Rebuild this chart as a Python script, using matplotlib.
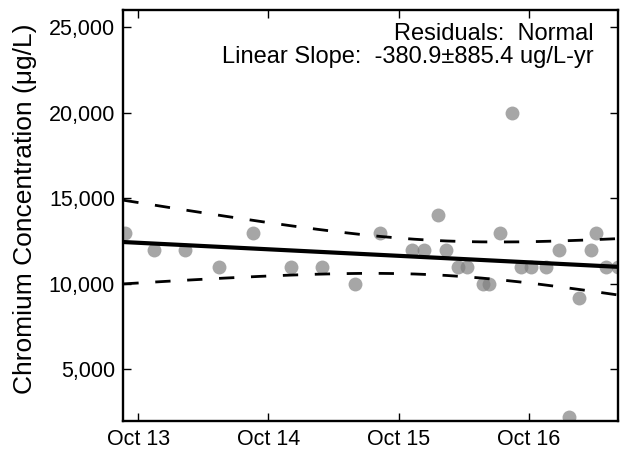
import datetime as dt

import matplotlib
matplotlib.use("Agg")
import matplotlib.pyplot as plt
import matplotlib.dates as mdates
import matplotlib.ticker as mticker
import numpy as np

# sample dates and chromium values
sample_dates = [
    "2013-08-25", "2013-11-14", "2014-02-10", "2014-05-15", "2014-08-18",
    "2014-12-03", "2015-03-01", "2015-06-01", "2015-08-09", "2015-11-08",
    "2015-12-10", "2016-01-20", "2016-02-11", "2016-03-16", "2016-04-10",
    "2016-05-25", "2016-06-10", "2016-07-12", "2016-08-14", "2016-09-08",
    "2016-10-07", "2016-11-18", "2016-12-24", "2017-01-20", "2017-02-19",
    "2017-03-23", "2017-04-08", "2017-05-06", "2017-06-07",
]
chromium = [
    13000, 12000, 12000, 11000, 13000,
    11000, 11000, 10000, 13000, 12000,
    12000, 14000, 12000, 11000, 11000,
    10000, 10000, 13000, 20000, 11000,
    11000, 11000, 12000, 2200, 9200,
    12000, 13000, 11000, 11000,
]
x_start = "2013-08-20"
x_end = "2017-06-08"
y_ticks = [5000, 10000, 15000, 20000, 25000]
note_lines = ["Residuals:  Normal", "Linear Slope:  -380.9\u00b1885.4 ug/L-yr"]

plt.rcParams['font.family'] = ['Liberation Sans', 'DejaVu Sans']
plt.rcParams['lines.scale_dashes'] = False

dates = [dt.datetime.strptime(d, "%Y-%m-%d") for d in sample_dates]
xnum = mdates.date2num(dates)
y = np.array(chromium, dtype=float)

# linear fit in years with 95% confidence band of the mean
t_yr = xnum / 365.25
coef = np.polyfit(t_yr, y, 1)
n = len(y)
resid = y - np.polyval(coef, t_yr)
s = np.sqrt(np.sum(resid ** 2) / (n - 2))
sxx = np.sum((t_yr - t_yr.mean()) ** 2)
t_crit = 2.052

x0 = mdates.date2num(dt.datetime.strptime(x_start, "%Y-%m-%d"))
x1 = mdates.date2num(dt.datetime.strptime(x_end, "%Y-%m-%d"))
xf = np.linspace(x0, x1, 200)
tf = xf / 365.25
yf = np.polyval(coef, tf)
half = t_crit * s * np.sqrt(1.0 / n + (tf - t_yr.mean()) ** 2 / sxx)

fig = plt.figure(figsize=(6.2, 4.53), dpi=100)
ax = fig.add_axes([0.199, 0.071, 0.798, 0.907])

ax.plot(xnum, y, 'o', color='gray', alpha=0.7, markersize=10, markeredgewidth=0, zorder=2)
ax.plot(xf, yf, '-', color='black', linewidth=3, zorder=3)
ax.plot(xf, yf + half, color='black', linewidth=2, dashes=(11, 12), zorder=3)
ax.plot(xf, yf - half, color='black', linewidth=2, dashes=(11, 12), zorder=3)

ax.set_xlim(x0, x1)
ax.set_ylim(2000, 26000)
ax.set_yticks(y_ticks)
ax.yaxis.set_major_formatter(mticker.FuncFormatter(lambda v, p: "{:,.0f}".format(v)))
ax.xaxis.set_major_locator(mdates.MonthLocator(bymonth=10))
ax.xaxis.set_major_formatter(mdates.DateFormatter("%b %y"))

ax.tick_params(direction='in', length=6, width=1, top=True, right=True, labelsize=15.5, pad=6)
for sp in ax.spines.values():
    sp.set_linewidth(1.7)

ax.set_ylabel("Chromium Concentration (\u03bcg/L)", fontsize=19)
ax.yaxis.set_label_coords(-0.175, 0.515)
ax.text(0.95, 0.968, "\n".join(note_lines), transform=ax.transAxes,
        ha='right', va='top', fontsize=17, linespacing=1.05)

fig.savefig("out.png", dpi=100)
